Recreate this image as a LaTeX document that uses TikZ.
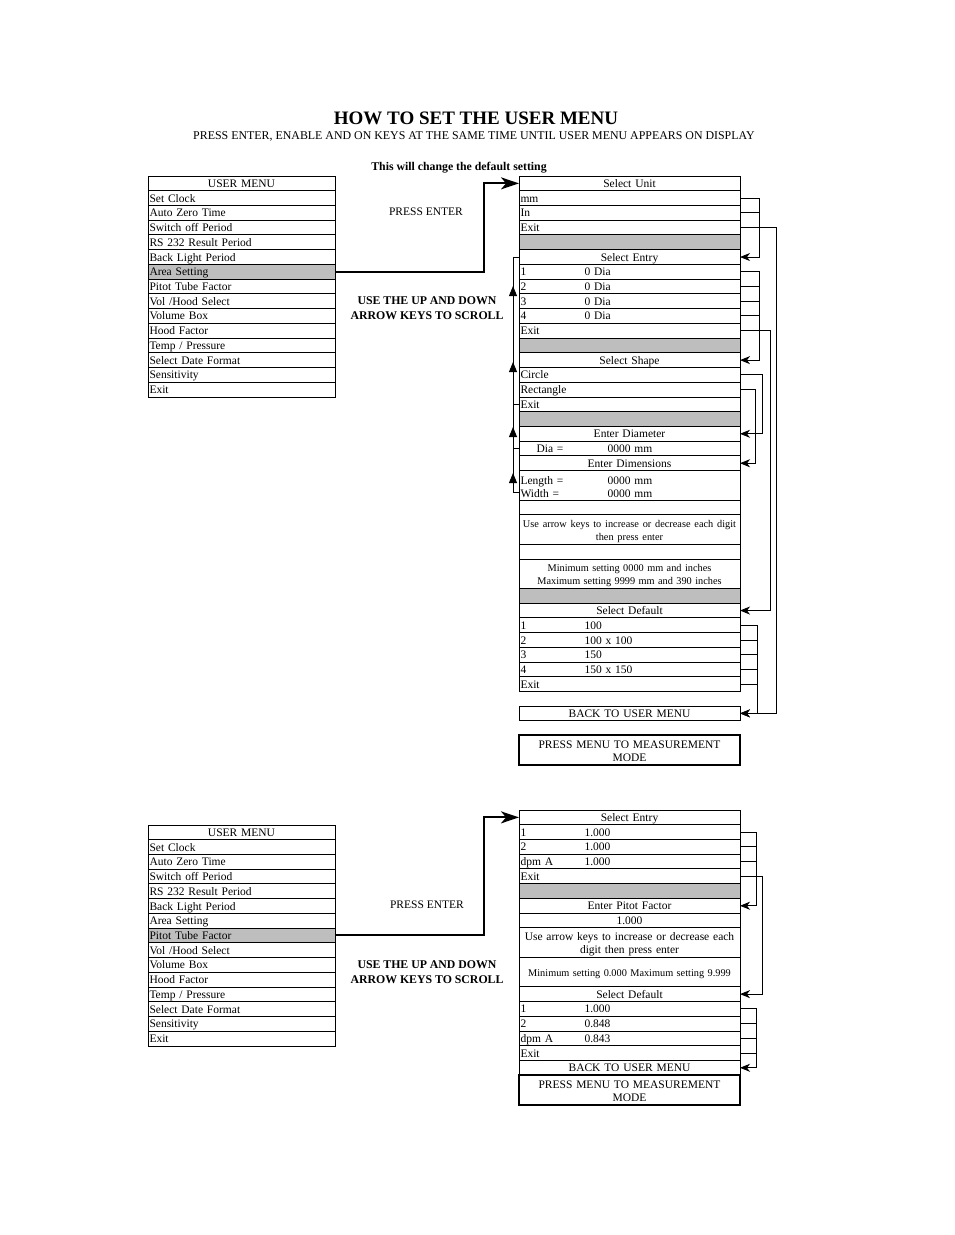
\documentclass[tikz,border=0pt]{standalone}
\usepackage{fontspec}
\setmainfont{Liberation Serif}
\usepackage{xcolor}
\definecolor{rowgray}{HTML}{BEBEBE}
\usetikzlibrary{arrows.meta,positioning,decorations.markings}

\tikzset{
  cell/.style={draw,line width=0.9pt,rectangle,inner xsep=1.5pt,inner ysep=0pt,
    outer sep=0pt,minimum height=14.73pt,text width=218pt,align=center,
    font=\fontsize{11.5}{13}\selectfont,
    execute at begin node={\rule[-2.8pt]{0pt}{13.6pt}}},
  lcell/.style={cell,align=left},
  gcell/.style={cell,fill=rowgray},
  dcell/.style={cell,minimum height=29.46pt},
  pmcell/.style={dcell,line width=2pt},
  menu/.style={cell,text width=184pt},
  lmenu/.style={menu,align=left},
  gmenu/.style={lmenu,fill=rowgray},
  small/.style={font=\fontsize{10.3}{13}\selectfont},
  label/.style={font=\fontsize{11.5}{15}\selectfont,align=center,inner sep=0pt},
  blabel/.style={label,font=\bfseries\fontsize{11.8}{15}\selectfont},
  stub/.style={line width=0.9pt},
  jump/.style={line width=0.9pt,-{Stealth[length=10pt,width=8pt,inset=3pt]}},
  enter/.style={line width=2pt,-{Stealth[length=18pt,width=12pt,inset=5pt]}},
  scroll/.style={line width=0.9pt,postaction={decorate},decoration={markings,
    mark=at position 25.7pt with {\arrow{Triangle[length=10pt,width=8pt]}},
    mark=at position 71.7pt with {\arrow{Triangle[length=10pt,width=8pt]}},
    mark=at position 136.7pt with {\arrow{Triangle[length=10pt,width=8pt]}},
    mark=at position 212.7pt with {\arrow{Triangle[length=10pt,width=8pt]}}}}
}

\begin{document}
\begin{tikzpicture}[x=1pt,y=-1pt]
\useasboundingbox (0,0) rectangle (954,1235);

% heading
\node[inner sep=0pt,font=\bfseries\fontsize{19}{22}\selectfont] (ttl) at (476,118) {HOW TO SET THE USER MENU};
\node[label,font=\fontsize{11.9}{13}\selectfont] (sub) at (474,136) {PRESS ENTER, ENABLE AND ON KEYS AT THE SAME TIME UNTIL USER MENU APPEARS ON DISPLAY};
\node[blabel] (chg) at (459,168) {This will change the default setting};

% user menu, area setting
\node[menu,anchor=north west] (ma0) at (148,176) {USER MENU};
\foreach \t/\s [count=\i] in {Set Clock/lmenu,Auto Zero Time/lmenu,Switch off Period/lmenu,
    RS 232 Result Period/lmenu,Back Light Period/lmenu,Area Setting/gmenu,Pitot Tube Factor/lmenu,
    {Vol /Hood Select}/lmenu,Volume Box/lmenu,Hood Factor/lmenu,{Temp / Pressure}/lmenu,
    Select Date Format/lmenu,Sensitivity/lmenu,Exit/lmenu}{
  \pgfmathtruncatemacro\j{\i-1}
  \node[\s,below=0pt of ma\j] (ma\i) {\t};
}

\node[label] (pe1) at (426,212) {PRESS ENTER};
\node[blabel] (sc1) at (427,308) {USE THE UP AND DOWN\\ARROW KEYS TO SCROLL};

% area setting column
\node[cell,anchor=north west] (su) at (519,176) {Select Unit};
\node[lcell,below=0pt of su] (umm) {mm};
\node[lcell,below=0pt of umm] (uin) {In};
\node[lcell,below=0pt of uin] (uex) {Exit};
\node[gcell,below=0pt of uex] (ug1) {};
\node[cell,below=0pt of ug1] (se) {Select Entry};
\node[lcell,below=0pt of se] (e1) {\makebox[64pt][l]{1}0 Dia};
\node[lcell,below=0pt of e1] (e2) {\makebox[64pt][l]{2}0 Dia};
\node[lcell,below=0pt of e2] (e3) {\makebox[64pt][l]{3}0 Dia};
\node[lcell,below=0pt of e3] (e4) {\makebox[64pt][l]{4}0 Dia};
\node[lcell,below=0pt of e4] (eex) {Exit};
\node[gcell,below=0pt of eex] (ug2) {};
\node[cell,below=0pt of ug2] (ss) {Select Shape};
\node[lcell,below=0pt of ss] (sc) {Circle};
\node[lcell,below=0pt of sc] (sr) {Rectangle};
\node[lcell,below=0pt of sr] (sx) {Exit};
\node[gcell,below=0pt of sx] (ug3) {};
\node[cell,below=0pt of ug3] (ed) {Enter Diameter};
\node[lcell,below=0pt of ed] (dia) {\makebox[87pt][l]{\hspace{16pt}Dia =}0000 mm};
\node[cell,below=0pt of dia] (edm) {Enter Dimensions};
\node[dcell,align=left,below=0pt of edm] (lw) {\makebox[87pt][l]{Length =}0000 mm\\\makebox[87pt][l]{Width =}0000 mm};
\node[cell,below=0pt of lw] (bl1) {};
\node[dcell,below=0pt of bl1] (uak) {\fontsize{10.3}{13}\selectfont Use arrow keys to increase or decrease each digit\\then press enter};
\node[cell,below=0pt of uak] (bl2) {};
\node[dcell,small,below=0pt of bl2] (mm) {Minimum setting 0000 mm and inches\\Maximum setting 9999 mm and 390 inches};
\node[gcell,below=0pt of mm] (ug4) {};
\node[cell,below=0pt of ug4] (sd) {Select Default};
\node[lcell,below=0pt of sd] (d1) {\makebox[64pt][l]{1}100};
\node[lcell,below=0pt of d1] (d2) {\makebox[64pt][l]{2}100 x 100};
\node[lcell,below=0pt of d2] (d3) {\makebox[64pt][l]{3}150};
\node[lcell,below=0pt of d3] (d4) {\makebox[64pt][l]{4}150 x 150};
\node[lcell,below=0pt of d4] (dex) {Exit};
\node[cell,anchor=north west] (back) at (519,706) {BACK TO USER MENU};
\node[pmcell,anchor=north west] (pm) at (519,735.4) {PRESS MENU TO MEASUREMENT\\MODE};

% connectors, area setting
\draw[enter] (ma6.east) -- ++(149,0) |- (su.west);
\draw[stub] (uin.east) -- ++(19,0);
\draw[jump] (umm.east) -- ++(19,0) |- (se.east);
\draw[jump] (uex.east) -- ++(36,0) |- (back.east);
\foreach \n in {2,3,4} \draw[stub] (e\n.east) -- ++(19,0);
\draw[jump] (e1.east) -- ++(19,0) |- (ss.east);
\draw[jump] (eex.east) -- ++(30,0) |- (sd.east);
\draw[jump] (sc.east) -- ++(22,0) |- (ed.east);
\draw[jump] (sr.east) -- ++(15,0) |- (edm.east);
\foreach \n in {d2,d3,d4,dex} \draw[stub] (\n.east) -- ++(17,0);
\draw[jump] (d1.east) -- ++(17,0) |- (back.east);
\coordinate (wd) at ([yshift=-7.4pt]lw.west);
\draw[scroll] (wd) -- ++(-6,0) |- (se.west);
\draw[stub] (sx.west) -- ++(-6,0);
\draw[stub] (dia.west) -- ++(-6,0);

% user menu, pitot tube factor
\node[menu,anchor=north west] (mb0) at (148,825) {USER MENU};
\foreach \t/\s [count=\i] in {Set Clock/lmenu,Auto Zero Time/lmenu,Switch off Period/lmenu,
    RS 232 Result Period/lmenu,Back Light Period/lmenu,Area Setting/lmenu,Pitot Tube Factor/gmenu,
    {Vol /Hood Select}/lmenu,Volume Box/lmenu,Hood Factor/lmenu,{Temp / Pressure}/lmenu,
    Select Date Format/lmenu,Sensitivity/lmenu,Exit/lmenu}{
  \pgfmathtruncatemacro\j{\i-1}
  \node[\s,below=0pt of mb\j] (mb\i) {\t};
}

\node[label] (pe2) at (427,905) {PRESS ENTER};
\node[blabel] (sc2) at (427,972) {USE THE UP AND DOWN\\ARROW KEYS TO SCROLL};

% pitot factor column
\node[cell,anchor=north west] (pse) at (519,810) {Select Entry};
\node[lcell,below=0pt of pse] (p1) {\makebox[64pt][l]{1}1.000};
\node[lcell,below=0pt of p1] (p2) {\makebox[64pt][l]{2}1.000};
\node[lcell,below=0pt of p2] (pdpm) {\makebox[64pt][l]{dpm A}1.000};
\node[lcell,below=0pt of pdpm] (pex) {Exit};
\node[gcell,below=0pt of pex] (pg) {};
\node[cell,below=0pt of pg] (epf) {Enter Pitot Factor};
\node[cell,below=0pt of epf] (pval) {1.000};
\node[dcell,below=0pt of pval] (pak) {Use arrow keys to increase or decrease each\\digit then press enter};
\node[dcell,small,below=0pt of pak] (pmm) {Minimum setting 0.000 Maximum setting 9.999};
\node[cell,below=0pt of pmm] (psd) {Select Default};
\node[lcell,below=0pt of psd] (q1) {\makebox[64pt][l]{1}1.000};
\node[lcell,below=0pt of q1] (q2) {\makebox[64pt][l]{2}0.848};
\node[lcell,below=0pt of q2] (qdpm) {\makebox[64pt][l]{dpm A}0.843};
\node[lcell,below=0pt of qdpm] (qex) {Exit};
\node[cell,below=0pt of qex] (pback) {BACK TO USER MENU};
\node[pmcell,below=0pt of pback] (ppm) {PRESS MENU TO MEASUREMENT\\MODE};

% connectors, pitot tube factor
\draw[enter] (mb7.east) -- ++(149,0) |- (pse.west);
\foreach \n in {p2,pdpm} \draw[stub] (\n.east) -- ++(16,0);
\draw[jump] (p1.east) -- ++(16,0) |- (epf.east);
\draw[jump] (pex.east) -- ++(22,0) |- (psd.east);
\foreach \n in {q2,qdpm,qex} \draw[stub] (\n.east) -- ++(16,0);
\draw[jump] (q1.east) -- ++(16,0) |- (pback.east);
\end{tikzpicture}
\end{document}
